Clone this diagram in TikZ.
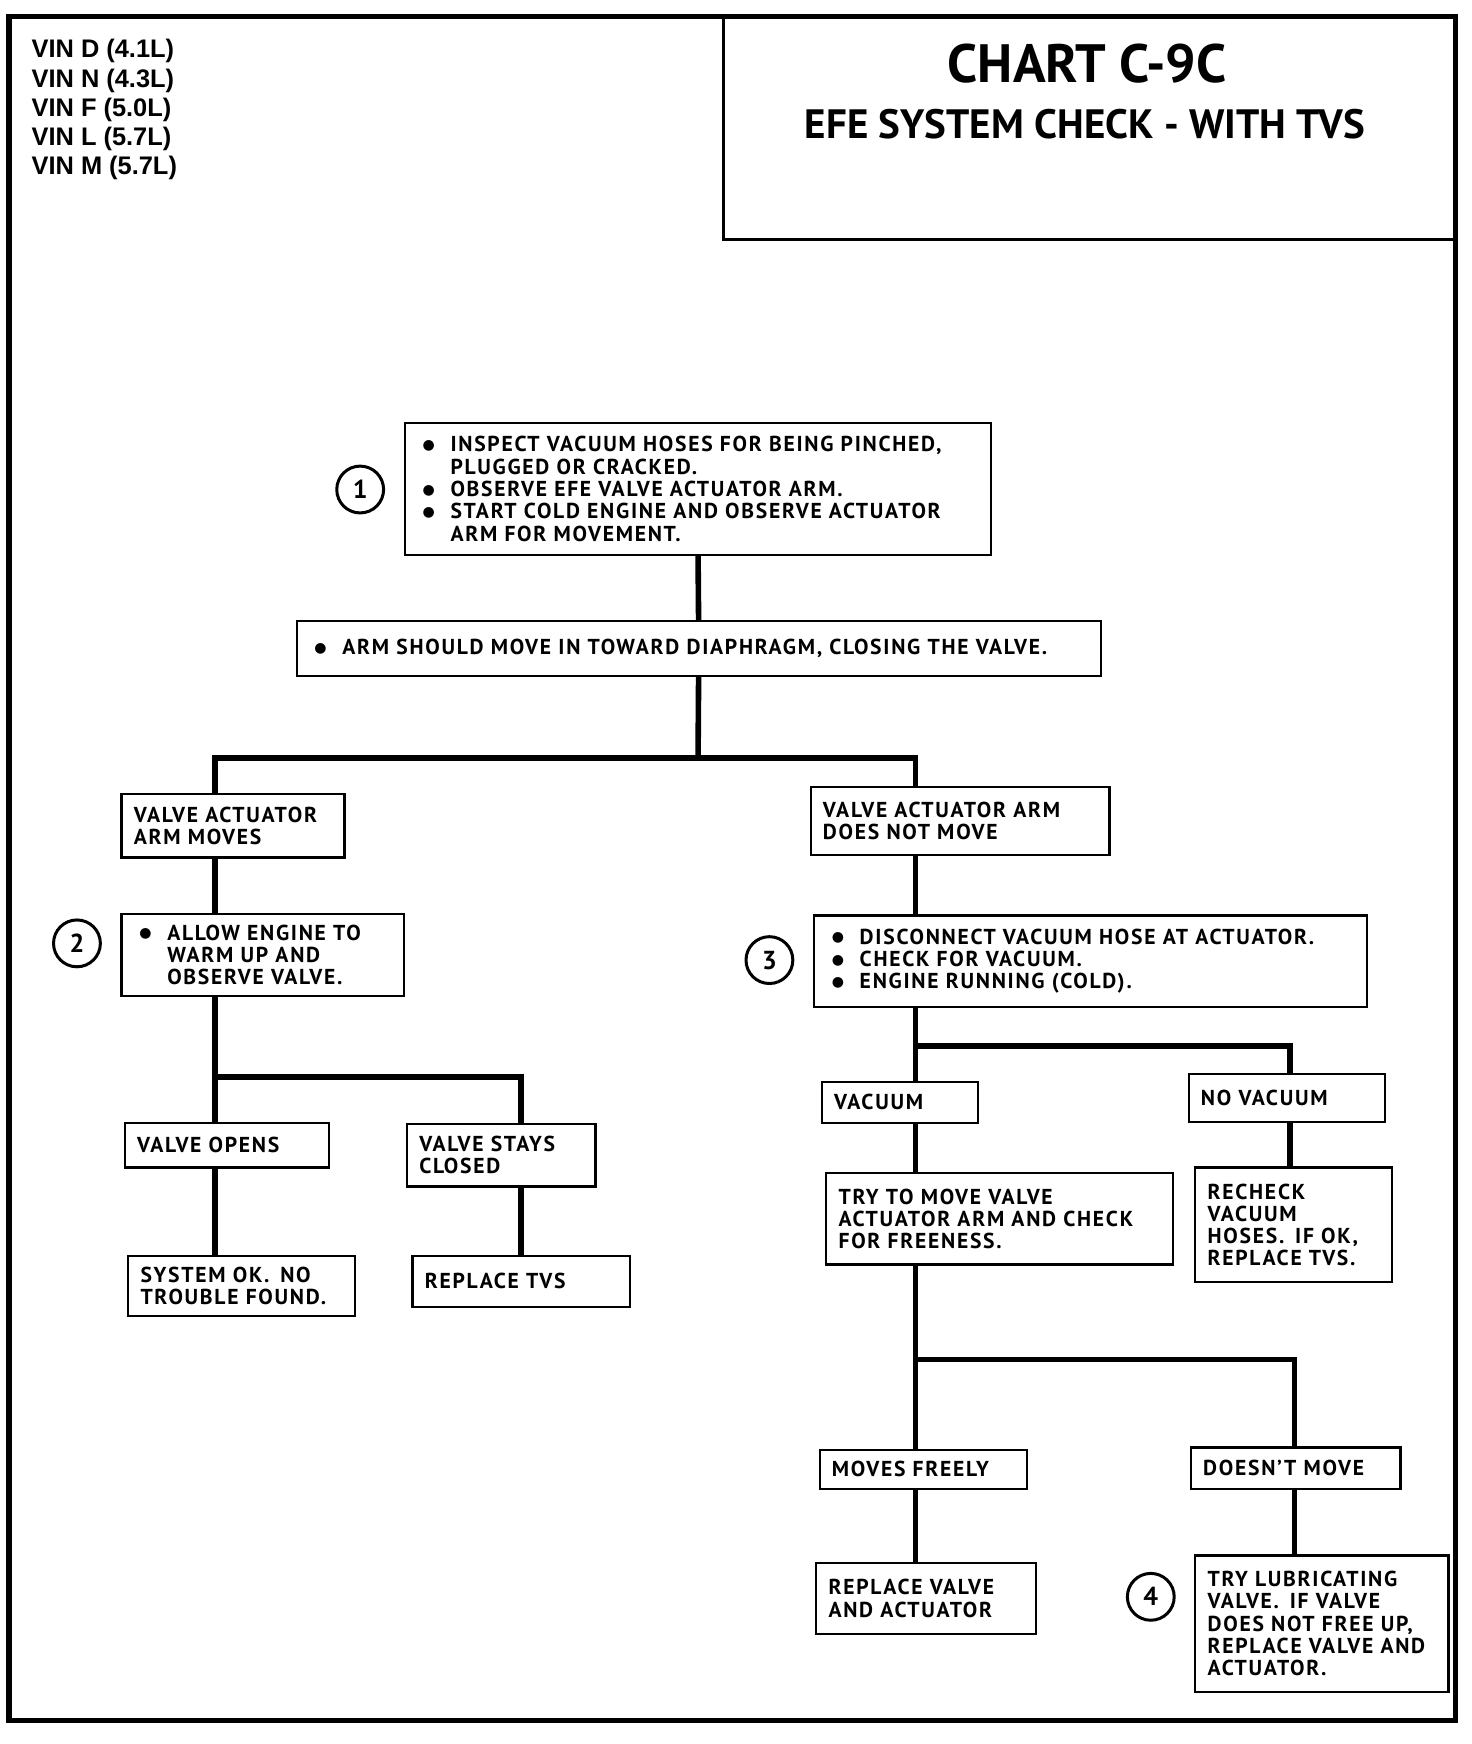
\documentclass[tikz,border=0pt]{standalone}
\usepackage{fontspec}
\setmainfont{PT Sans}
\newfontfamily\boxfont[LetterSpace=8]{PT Sans}
\newfontfamily\vinfont{Liberation Sans}
\newfontfamily\dotfont{DejaVu Sans}
\newlength{\unitpx}
\setlength{\unitpx}{0.5575pt}
\newcommand{\bul}{\makebox[25\unitpx][l]{\raisebox{1.2pt}{\dotfont\fontsize{7}{0}\selectfont ●}}}
\newcommand{\ind}{\hspace*{25\unitpx}}

\begin{document}
\begin{tikzpicture}[x=0.5575pt,y=-0.5575pt,
    box/.style={draw,line width=1.1pt,anchor=north west,align=left,outer sep=0pt,
        inner xsep=11\unitpx,inner ysep=0pt,font=\boxfont\bfseries\fontsize{10.8}{11.15}\selectfont},
    list/.style={box,inner xsep=16\unitpx},
    conn/.style={line width=2.8pt,line join=miter},
    num/.style={circle,draw,line width=1.5pt,minimum size=42\unitpx,inner sep=0pt,
        font=\bfseries\fontsize{13}{14}\selectfont}]
        \useasboundingbox (0,0) rectangle (1320,1564);
        %% Frame and title
        \draw[line width=2.6pt] (8,15) rectangle (1305,1543);
        \draw[line width=1.4pt] (649,15) -- (649,215) -- (1305,215);
        \node[anchor=north west,align=left,inner sep=0pt,font=\vinfont\bfseries\fontsize{12.7}{14.6}\selectfont]
            (vin) at (28,35) {VIN D (4.1L)\\VIN N (4.3L)\\VIN F (5.0L)\\VIN L (5.7L)\\VIN M (5.7L)};
        \node[font=\bfseries\fontsize{27}{30}\selectfont] (title) at (975,57) {CHART C-9C};
        \node[font=\bfseries\fontsize{20.5}{24}\selectfont] (subtitle) at (973,111) {EFE SYSTEM CHECK - WITH TVS};
        %% Step 1
        \node[num] (n1) at (323,439) {1};
        \node[list,minimum width=526\unitpx,minimum height=119\unitpx,text width=494\unitpx] (insp) at (363,379)
            {\bul INSPECT VACUUM HOSES FOR BEING PINCHED,\\\ind PLUGGED OR CRACKED.\\
             \bul OBSERVE EFE VALVE ACTUATOR ARM.\\
             \bul START COLD ENGINE AND OBSERVE ACTUATOR\\\ind ARM FOR MOVEMENT.};
        \node[list,minimum width=721\unitpx,minimum height=49\unitpx,text width=689\unitpx] (arm) at (266,557)
            {\bul ARM SHOULD MOVE IN TOWARD DIAPHRAGM, CLOSING THE VALVE.};
            \draw[conn] (insp.south) -- (arm.north);
        \coordinate (j1) at (626,680);
        \coordinate (j1l) at (193,680);
        \coordinate (j1r) at (821,680);
        \node[box,minimum width=200\unitpx,minimum height=57\unitpx,text width=178\unitpx] (moves) at (109,712)
            {VALVE ACTUATOR\\ARM MOVES};
        \node[box,minimum width=268\unitpx,minimum height=61\unitpx,text width=246\unitpx] (nomove) at (727,706)
            {VALVE ACTUATOR ARM\\DOES NOT MOVE};
            \draw[conn] (arm.south) -- (j1);
            \draw[conn] (moves.north -| j1l) -- (j1l) -- (j1r) -- (nomove.north -| j1r);
        %% Step 2 (left)
        \node[num] (n2) at (69,846) {2};
        \node[list,minimum width=253\unitpx,minimum height=73\unitpx,text width=221\unitpx] (warm) at (109,820)
            {\bul ALLOW ENGINE TO\\\ind WARM UP AND\\\ind OBSERVE VALVE.};
            \draw[conn] (moves.south -| j1l) -- (warm.north -| j1l);
        \coordinate (j2l) at (193,966);
        \coordinate (j2r) at (467,966);
        \node[box,minimum width=183\unitpx,minimum height=40\unitpx,text width=161\unitpx] (opens) at (112,1007)
            {VALVE OPENS};
        \node[box,minimum width=169\unitpx,minimum height=56\unitpx,text width=147\unitpx] (closed) at (365,1008)
            {VALVE STAYS\\CLOSED};
            \draw[conn] (warm.south -| j2l) -- (opens.north -| j2l);
            \draw[conn] (j2l) -- (j2r) -- (closed.north -| j2r);
        \node[box,minimum width=203\unitpx,minimum height=54\unitpx,text width=181\unitpx] (sysok) at (115,1126)
            {SYSTEM OK.\enspace NO\\TROUBLE FOUND.};
        \node[box,minimum width=195\unitpx,minimum height=46\unitpx,text width=173\unitpx] (tvs) at (370,1126)
            {REPLACE TVS};
            \draw[conn] (opens.south -| j2l) -- (sysok.north -| j2l);
            \draw[conn] (closed.south -| j2r) -- (tvs.north -| j2r);
        %% Step 3 (right)
        \node[num] (n3) at (690,861) {3};
        \node[list,minimum width=496\unitpx,minimum height=82\unitpx,text width=464\unitpx] (disc) at (730,821)
            {\bul DISCONNECT VACUUM HOSE AT ACTUATOR.\\
             \bul CHECK FOR VACUUM.\\
             \bul ENGINE RUNNING (COLD).};
            \draw[conn] (nomove.south -| j1r) -- (disc.north -| j1r);
        \coordinate (j3l) at (821,938);
        \coordinate (j3r) at (1157,938);
        \node[box,minimum width=140\unitpx,minimum height=37\unitpx,text width=118\unitpx] (vac) at (737,970)
            {VACUUM};
        \node[box,minimum width=176\unitpx,minimum height=43\unitpx,text width=154\unitpx] (novac) at (1066,963)
            {NO VACUUM};
            \draw[conn] (disc.south -| j3l) -- (vac.north -| j3l);
            \draw[conn] (j3l) -- (j3r) -- (novac.north -| j3r);
        \node[box,minimum width=311\unitpx,minimum height=82\unitpx,text width=289\unitpx] (try) at (741,1052)
            {TRY TO MOVE VALVE\\ACTUATOR ARM AND CHECK\\FOR FREENESS.};
        \node[box,minimum width=176\unitpx,minimum height=103\unitpx,text width=154\unitpx] (recheck) at (1072,1047)
            {RECHECK\\VACUUM\\HOSES.\enspace IF OK,\\REPLACE TVS.};
            \draw[conn] (vac.south -| j3l) -- (try.north -| j3l);
            \draw[conn] (novac.south -| j3r) -- (recheck.north -| j3r);
        %% Freeness check
        \coordinate (j4l) at (821,1219);
        \coordinate (j4r) at (1161,1219);
        \node[box,minimum width=186\unitpx,minimum height=35\unitpx,text width=164\unitpx] (freely) at (735,1300)
            {MOVES FREELY};
        \node[box,minimum width=188\unitpx,minimum height=37\unitpx,text width=166\unitpx] (stuck) at (1068,1298)
            {DOESN’T MOVE};
            \draw[conn] (try.south -| j4l) -- (freely.north -| j4l);
            \draw[conn] (j4l) -- (j4r) -- (stuck.north -| j4r);
        \node[box,minimum width=197\unitpx,minimum height=63\unitpx,text width=175\unitpx] (replace) at (732,1402)
            {REPLACE VALVE\\AND ACTUATOR};
        \node[num] (n4) at (1032,1432) {4};
        \node[box,minimum width=227\unitpx,minimum height=122\unitpx,text width=205\unitpx] (lube) at (1072,1395)
            {TRY LUBRICATING\\VALVE.\enspace IF VALVE\\DOES NOT FREE UP,\\REPLACE VALVE AND\\ACTUATOR.};
            \draw[conn] (freely.south -| j4l) -- (replace.north -| j4l);
            \draw[conn] (stuck.south -| j4r) -- (lube.north -| j4r);
\end{tikzpicture}
\end{document}
